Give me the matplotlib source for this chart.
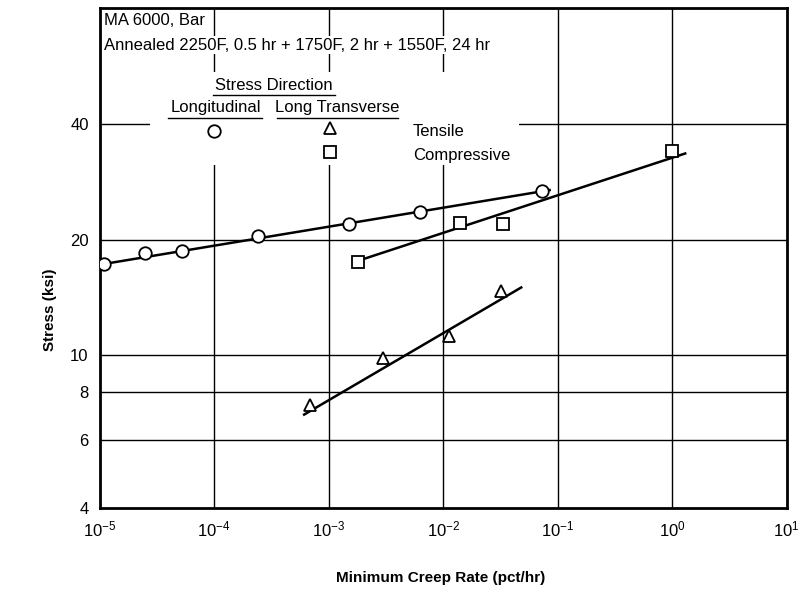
import matplotlib
matplotlib.use("Agg")
import matplotlib.pyplot as plt
from matplotlib.patches import Rectangle
from matplotlib.ticker import LogFormatterMathtext, NullLocator

plt.rcParams['font.family'] = ['Liberation Sans Narrow', 'Liberation Sans', 'DejaVu Sans']
plt.rcParams['mathtext.fontset'] = 'custom'
plt.rcParams['mathtext.rm'] = 'Liberation Sans Narrow'
plt.rcParams['mathtext.it'] = 'Liberation Sans Narrow'

# longitudinal, tensile (circles)
long_tens_rate = [1.1e-5, 2.5e-5, 5.2e-5, 2.4e-4, 1.5e-3, 6.3e-3, 7.3e-2]
long_tens_stress = [17.3, 18.5, 18.7, 20.4, 22.0, 23.6, 26.7]
long_fit_rate = [1.0e-5, 8.5e-2]
long_fit_stress = [17.2, 26.9]

# long transverse, tensile (triangles)
trans_tens_rate = [6.9e-4, 3.0e-3, 1.13e-2, 3.2e-2]
trans_tens_stress = [7.4, 9.8, 11.2, 14.7]
tens_fit_rate = [6.1e-4, 4.8e-2]
tens_fit_stress = [7.0, 15.0]

# long transverse, compressive (squares)
trans_comp_rate = [1.8e-3, 1.4e-2, 3.3e-2, 1.0]
trans_comp_stress = [17.5, 22.1, 21.9, 34.0]
comp_fit_rate = [1.8e-3, 1.3]
comp_fit_stress = [17.6, 33.5]

x_ticks = [1e-5, 1e-4, 1e-3, 1e-2, 1e-1, 1e0, 1e1]
y_ticks = [4, 6, 8, 10, 20, 40]
y_labels = ["4", "6", "8", "10", "20", "40"]

fig = plt.figure(figsize=(8.11, 5.92), dpi=100)
ax = fig.add_axes([0.123, 0.142, 0.847, 0.844])

ax.set_xscale('log')
ax.set_yscale('log')
ax.set_xlim(1e-5, 1e1)
ax.set_ylim(4, 80)

# grid lines
for xv in x_ticks[1:-1]:
    ax.axvline(xv, color='black', lw=1.0, zorder=1)
for yv in y_ticks[1:]:
    ax.axhline(yv, color='black', lw=1.0, zorder=1)

# white areas behind the legend block
ax.add_patch(Rectangle((0.073, 0.686), 0.436, 0.186, transform=ax.transAxes,
                       facecolor='white', edgecolor='none', zorder=2))
ax.add_patch(Rectangle((0.45, 0.686), 0.16, 0.09, transform=ax.transAxes,
                       facecolor='white', edgecolor='none', zorder=2))

mk = dict(mfc='white', mec='black', mew=1.3, ls='none', zorder=5)
ax.plot(long_fit_rate, long_fit_stress, color='black', lw=1.8, zorder=4)
ax.plot(tens_fit_rate, tens_fit_stress, color='black', lw=1.8, zorder=4)
ax.plot(comp_fit_rate, comp_fit_stress, color='black', lw=1.8, zorder=4)
ax.plot(long_tens_rate, long_tens_stress, marker='o', ms=9, **mk)
ax.plot(trans_tens_rate, trans_tens_stress, marker='^', ms=9, **mk)
ax.plot(trans_comp_rate, trans_comp_stress, marker='s', ms=8, **mk)

# texts
box = dict(facecolor='white', edgecolor='none', pad=1.0)
ax.text(0.006, 0.976, "MA 6000, Bar", transform=ax.transAxes, fontsize=12,
        ha='left', va='center', bbox=box, zorder=3)
ax.text(0.006, 0.926, "Annealed 2250F, 0.5 hr + 1750F, 2 hr + 1550F, 24 hr",
        transform=ax.transAxes, fontsize=12, ha='left', va='center', bbox=box, zorder=3)
ax.text(0.253, 0.846, "Stress Direction", transform=ax.transAxes, fontsize=12,
        ha='center', va='center', zorder=3)
ax.text(0.169, 0.802, "Longitudinal", transform=ax.transAxes, fontsize=12,
        ha='center', va='center', zorder=3)
ax.text(0.346, 0.802, "Long Transverse", transform=ax.transAxes, fontsize=12,
        ha='center', va='center', zorder=3)
ax.text(0.456, 0.754, "Tensile", transform=ax.transAxes, fontsize=12,
        ha='left', va='center', zorder=3)
ax.text(0.456, 0.706, "Compressive", transform=ax.transAxes, fontsize=12,
        ha='left', va='center', zorder=3)

# underlines
ax.plot([0.165, 0.342], [0.826, 0.826], transform=ax.transAxes, color='black', lw=1.0, zorder=3)
ax.plot([0.099, 0.236], [0.78, 0.78], transform=ax.transAxes, color='black', lw=1.0, zorder=3)
ax.plot([0.258, 0.434], [0.78, 0.78], transform=ax.transAxes, color='black', lw=1.0, zorder=3)

# legend symbols
ax.plot([0.167], [0.754], marker='o', ms=9, transform=ax.transAxes, **mk)
ax.plot([0.335], [0.76], marker='^', ms=9, transform=ax.transAxes, **mk)
ax.plot([0.335], [0.712], marker='s', ms=8, transform=ax.transAxes, **mk)

ax.set_xticks(x_ticks)
ax.xaxis.set_major_formatter(LogFormatterMathtext())
ax.xaxis.set_minor_locator(NullLocator())
ax.set_yticks(y_ticks)
ax.set_yticklabels(y_labels)
ax.yaxis.set_minor_locator(NullLocator())
ax.tick_params(axis='both', length=0, labelsize=12)
ax.tick_params(axis='x', pad=8)
ax.tick_params(axis='y', pad=8)

for sp in ax.spines.values():
    sp.set_linewidth(2.0)

fig.text(0.062, 0.476, "Stress (ksi)", rotation=90, fontsize=11, fontweight='bold',
         ha='center', va='center')
fig.text(0.543, 0.024, "Minimum Creep Rate (pct/hr)", fontsize=11, fontweight='bold',
         ha='center', va='center')

fig.savefig("out.png", dpi=100)
